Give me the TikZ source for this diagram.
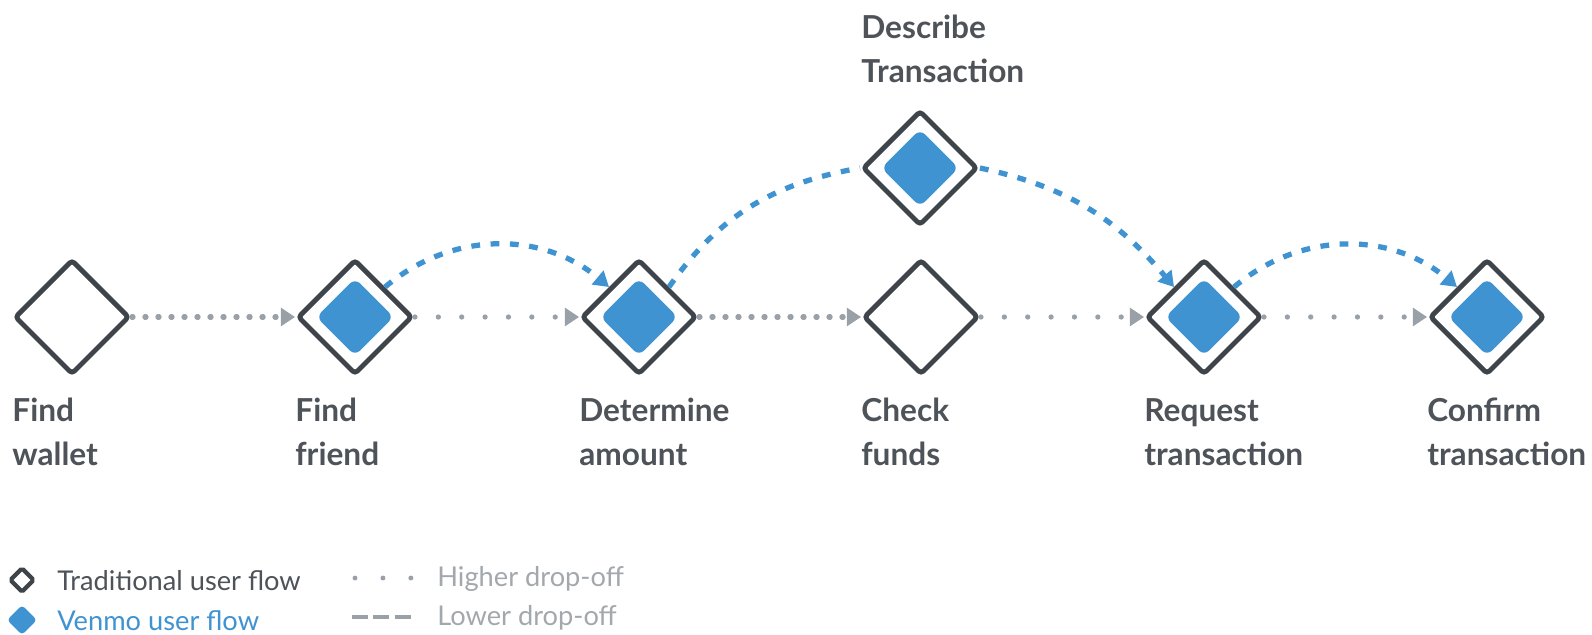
\documentclass[tikz,border=0pt]{standalone}
\usepackage{fontspec}
\setmainfont{Lato}
\usetikzlibrary{shapes.geometric,arrows.meta,positioning}
\definecolor{ink}{HTML}{3E4449}
\definecolor{venmo}{HTML}{3F93D1}
\definecolor{drop}{HTML}{99A0A7}
\definecolor{txt}{HTML}{4D5358}
\definecolor{legtxt}{HTML}{A3A8AD}
\tikzset{
	flow/.style={shape=diamond, draw=ink, line width=2.8pt, fill=white, minimum width=2.3cm, minimum height=2.3cm, inner sep=0pt, rounded corners=2pt},
	venmofill/.style={shape=diamond, fill=venmo, minimum width=1.55cm, minimum height=1.55cm, inner sep=0pt, rounded corners=4pt},
	lbl/.style={anchor=north west, inner sep=0pt, align=left, text=txt, font=\bfseries\fontsize{18}{25}\selectfont},
	legl/.style={anchor=west, inner sep=0pt, font=\fontsize{15.5}{17}\selectfont},
	dense/.style={draw=drop, line width=3pt, line cap=round, dash pattern=on 0.6pt off 6.8pt, -{Triangle[length=8pt,width=10pt]}},
	sparse/.style={dense, dash pattern=on 0pt off 13.3pt},
	lower/.style={draw=venmo, line width=3pt, dash pattern=on 5pt off 6pt, -{Triangle[length=8.5pt,width=10pt]}}
}
\begin{document}
\begin{tikzpicture}[x=0.2mm, y=-0.2mm]
		\useasboundingbox[fill=white] (0,0) rectangle (1592,634);
		% steps of the flow
		\node[flow] (wallet) at (72,317) {};
		\node[flow] (friend) at (355,317) {};
		\node[flow] (amount) at (639,317) {};
		\node[flow] (funds) at (921,317) {};
		\node[flow] (describe) at (920,168) {};
		\node[flow] (request) at (1204,317) {};
		\node[flow] (confirm) at (1487,317) {};
		\node[venmofill] (friendin) at (friend) {};
		\node[venmofill] (amountin) at (amount) {};
		\node[venmofill] (describein) at (describe) {};
		\node[venmofill] (requestin) at (request) {};
		\node[venmofill] (confirmin) at (confirm) {};
		% labels
		\node[lbl] (walletlbl) at (12,398) {Find\\wallet};
		\node[lbl] (friendlbl) at (295,398) {Find\\friend};
		\node[lbl] (amountlbl) at (579,398) {Determine\\amount};
		\node[lbl] (fundslbl) at (861,398) {Check\\funds};
		\node[lbl] (describelbl) at (861,15) {Describe\\Transaction};
		\node[lbl] (requestlbl) at (1144,398) {Request\\transaction};
		\node[lbl] (confirmlbl) at (1427,398) {Confirm\\transaction};
		% traditional flow
		\draw[dense] (wallet.east) -- (friend.west);
		\draw[sparse] (friend.east) -- (amount.west);
		\draw[dense] (amount.east) -- (funds.west);
		\draw[sparse] (funds.east) -- (request.west);
		\draw[sparse] (request.east) -- (confirm.west);
		% venmo flow
		\draw[lower] (friend.north east) to[out=40, in=140] (amount.north west);
		\draw[lower, -] (amount.north east) to[out=55, in=190] (describe.west);
		\draw[lower] (describe.east) to[out=-12, in=130] (request.north west);
		\draw[lower] (request.north east) to[out=40, in=140] (confirm.north west);
		% legend
		\node[flow, minimum width=0.5cm, minimum height=0.5cm, line width=2.4pt, rounded corners=1pt] (legtrad) at (22,580) {};
		\node[venmofill, minimum width=0.6cm, minimum height=0.6cm, rounded corners=2pt] (legvenmo) at (22,620) {};
		\node[legl, text=txt] (legtradtxt) at (57,581) {Traditional user flow};
		\node[legl, text=venmo] (legvenmotxt) at (57,621) {Venmo user flow};
		\coordinate (hia) at (355,578);
		\coordinate (hib) at (413,578);
		\coordinate (loa) at (352,617);
		\coordinate (lob) at (411,617);
		\draw[draw=drop, line width=2.8pt, line cap=round, dash pattern=on 0pt off 15.9pt] (hia) -- (hib);
		\draw[draw=drop, line width=2.8pt, dash pattern=on 9pt off 3.2pt] (loa) -- (lob);
		\node[legl, text=legtxt] (legtxthi) at (437,579) {Higher drop-off};
		\node[legl, text=legtxt] (legtxtlo) at (437,618) {Lower drop-off};
\end{tikzpicture}
\end{document}
